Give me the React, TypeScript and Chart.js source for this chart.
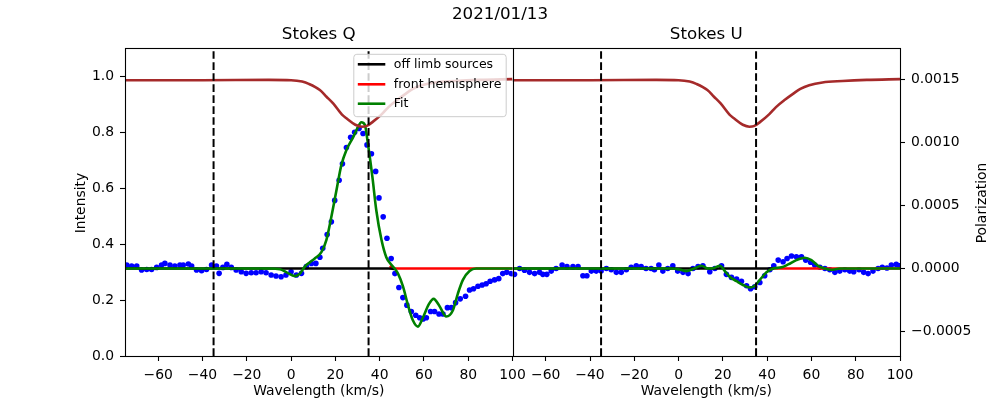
import { useEffect, useRef } from "react";
import { Chart, registerables } from "chart.js";
Chart.register(...registerables);

const FONT = "'DejaVu Sans', 'Liberation Sans', sans-serif";

// ---- axes / ticks ----
const velTicks = [-60, -40, -20, 0, 20, 40, 60, 80, 100];
const intensityTicks = [0, 0.2, 0.4, 0.6, 0.8, 1.0];
const polTicks = [-0.0005, 0, 0.0005, 0.001, 0.0015];
const markerVel = [-35, 35];
const panelTitles = ["Stokes Q", "Stokes U"];
const legendLabels = ["off limb sources", "front hemisphere", "Fit"];

// ---- intensity profile (brown, left axis) ----
const intVel = [-75, -40, -10, 0, 5, 8, 13, 16, 19, 23, 25, 29, 32, 34, 37, 41, 44, 48, 52, 55, 59, 65, 74, 85, 100];
const intVal = [0.985, 0.985, 0.986, 0.985, 0.98, 0.972, 0.95, 0.926, 0.902, 0.862, 0.849, 0.826, 0.819, 0.821, 0.837, 0.864, 0.889, 0.915, 0.938, 0.954, 0.967, 0.977, 0.982, 0.986, 0.989];

// ---- Stokes Q observed (blue dots) ----
const qDotVel = [-74.2, -72.0, -69.7, -67.5, -65.2, -63.0, -60.7, -58.5, -57.0, -54.7, -52.5, -50.2, -48.7, -46.4, -44.9, -42.7, -40.4, -38.2, -35.9, -33.7, -32.5, -30.8, -29.0, -27.0, -24.8, -22.5, -20.3, -18.0, -15.8, -13.5, -11.3, -9.0, -6.8, -4.5, -2.3, 0.0, 2.4, 4.7, 6.9, 9.2, 11.2, 13.0, 14.3, 16.3, 18.2, 19.7, 21.7, 23.2, 25.0, 26.9, 28.7, 30.7, 32.5, 34.3, 36.3, 38.2, 39.7, 41.6, 43.3, 45.2, 46.9, 48.7, 50.5, 52.3, 54.3, 56.3, 58.1, 59.6, 61.1, 63.0, 64.8, 66.8, 68.6, 70.6, 72.4, 74.3, 76.4, 78.8, 80.6, 82.4, 84.4, 86.3, 88.1, 89.9, 91.9, 93.8, 95.6, 97.4, 99.4];
const qDotPol = [2.8e-5, 2.0e-5, 2.0e-5, -1.2e-5, -0.7e-5, -0.7e-5, 0.9e-5, 2.8e-5, 4.1e-5, 2.8e-5, 2.0e-5, 2.8e-5, 2.8e-5, 3.6e-5, 2.0e-5, -1.2e-5, -1.7e-5, -0.7e-5, 2.8e-5, 2.0e-5, -3.8e-5, 0.9e-5, 3.3e-5, 0.9e-5, -1.2e-5, -2.5e-5, -3.8e-5, -3.3e-5, -3.3e-5, -2.5e-5, -3.3e-5, -5.1e-5, -5.9e-5, -6.5e-5, -5.1e-5, -2.5e-5, -5.1e-5, -3.8e-5, 1.5e-5, 4.0e-5, 4.1e-5, 9.0e-5, 16e-5, 27e-5, 37e-5, 54e-5, 70e-5, 83e-5, 96e-5, 104e-5, 108e-5, 111e-5, 107e-5, 98e-5, 91e-5, 77e-5, 56e-5, 41e-5, 24e-5, 8e-5, -4e-5, -15e-5, -23e-5, -29e-5, -34e-5, -37e-5, -39e-5, -40e-5, -39e-5, -34e-5, -34e-5, -36e-5, -36e-5, -31e-5, -31e-5, -27e-5, -24e-5, -22e-5, -17e-5, -16e-5, -14e-5, -13e-5, -12e-5, -10e-5, -9e-5, -8e-5, -4e-5, -3e-5, -4e-5];

// ---- Stokes Q model ----
const qFitVel = [-75, -10, -5, -2, 1.7, 4, 6.2, 8.5, 10.7, 13.7, 16, 18.2, 20.5, 22.7, 25, 28, 30.2, 31.7, 33.3, 34.7, 36.7, 38.5, 40.8, 43, 45.3, 46.8, 48.3, 50.5, 52.8, 55, 57.3, 59.5, 62.3, 64.4, 66.8, 70.1, 73.1, 75.3, 77.6, 80.6, 83.6, 100];
const qFitPol = [0, 0, -0.5e-5, -3e-5, -6e-5, -4e-5, 1.5e-5, 5e-5, 8e-5, 13e-5, 23e-5, 41e-5, 62e-5, 82e-5, 94e-5, 104e-5, 112e-5, 116e-5, 114e-5, 99e-5, 73e-5, 46e-5, 23e-5, 9e-5, 3e-5, 0, -4e-5, -14e-5, -29e-5, -41e-5, -46e-5, -39e-5, -28e-5, -24e-5, -29e-5, -38e-5, -33e-5, -20e-5, -9e-5, -2e-5, 0, 0];
const qOffVel = [-75, 44, 46.5];
const qOffPol = [0, 0, -0.3e-5];
const qFrontVel = [44.5, 46, 48, 100];
const qFrontPol = [2e-5, 0.3e-5, 0, 0];

// ---- Stokes U observed (blue dots) ----
const uDotVel = [-74.1, -71.8, -69.6, -67.3, -65.0, -62.8, -61.3, -59.5, -57.5, -55.3, -52.6, -50.4, -47.7, -45.4, -43.2, -41.4, -39.4, -37.2, -35.0, -32.6, -30.4, -28.1, -25.9, -23.6, -21.4, -19.1, -16.9, -14.7, -12.4, -10.9, -8.9, -7.1, -4.9, -2.6, -0.4, 2.0, 4.3, 6.5, 8.8, 11.0, 14.1, 16.4, 19.4, 21.6, 23.9, 26.2, 28.4, 30.7, 32.5, 34.4, 36.7, 38.9, 41.2, 43.0, 45.0, 47.2, 49.0, 51.0, 53.2, 55.5, 57.4, 59.6, 61.5, 63.8, 66.1, 68.3, 70.6, 72.8, 75.1, 77.3, 79.1, 81.5, 83.6, 85.6, 87.8, 90.1, 92.0, 94.1, 96.1, 98.3, 99.8];
const uDotPol = [-4.6e-5, 0, -1.3e-5, -3e-5, -4e-5, -3e-5, -4.6e-5, -4.6e-5, -2e-5, 0, 2.8e-5, 1.5e-5, 1.5e-5, 1.5e-5, -5.7e-5, -5.7e-5, -2e-5, -2e-5, -2e-5, 0, -1e-5, -3e-5, -3e-5, -1e-5, 1e-5, 2.2e-5, 1.5e-5, 0, 0, -1e-5, 2.8e-5, -2e-5, 0, 2.2e-5, -2e-5, -3e-5, -4e-5, 0, 1.5e-5, 2.2e-5, -2.5e-5, 0, 2.2e-5, -4.6e-5, -7e-5, -8.3e-5, -10e-5, -13.6e-5, -16e-5, -14.4e-5, -11e-5, -5.7e-5, -1e-5, 2.2e-5, 6.7e-5, 5.4e-5, 8e-5, 10e-5, 9.4e-5, 9.4e-5, 6.7e-5, 5e-5, 2.8e-5, 1e-5, 0, -1e-5, -3e-5, -2e-5, -1e-5, -2e-5, -2.5e-5, -1e-5, -3e-5, -4e-5, -2e-5, 0, 1e-5, 0.5e-5, 2.8e-5, 3.3e-5, 2.2e-5];

// ---- Stokes U model ----
const uFitVel = [-75, -3, 0.5, 3.5, 7, 10.3, 13.4, 16, 18.7, 20.9, 23.1, 26.2, 29.1, 32.1, 34.4, 36.7, 39.7, 42.7, 46.5, 49.5, 53.2, 57, 60, 63, 66.1, 69, 72.8, 100];
const uFitPol = [0, 0, -0.8e-5, -2e-5, 0, 2.2e-5, 0, 0.5e-5, 2.2e-5, -2e-5, -6.5e-5, -10e-5, -13e-5, -15e-5, -13.6e-5, -9e-5, -3e-5, 0, 1e-5, 3.3e-5, 6.7e-5, 8.6e-5, 6.7e-5, 2.2e-5, 0, -1e-5, 0, 0];
const uOffVel = [-75, 43];
const uOffPol = [0, 0];
const uFrontVel = [42, 100];
const uFrontPol = [0, 0];

const COLORS = { dots: "#0000ff", off: "#000000", front: "#ff0000", fit: "#008000", intensity: "#a52a2a" };

const xy = (xs: number[], ys: number[]) => xs.map((x, i) => ({ x, y: ys[i] }));
const minus = (s: string) => s.replace(/-/g, "\u2212");

function panelDatasets(xAxisID: string, dv: number[], dp: number[], fv: number[], fp: number[], ov: number[], op: number[], rv: number[], rp: number[]) {
  const line = (data: { x: number; y: number }[], color: string, order: number, yAxisID: string, extra: any = {}) => ({
    data, xAxisID, yAxisID, showLine: true, borderColor: color, backgroundColor: color,
    borderWidth: 2.6, pointRadius: 0, cubicInterpolationMode: "monotone", tension: 0.4, order, ...extra,
  });
  const sets: any[] = [
    { data: xy(dv, dp), xAxisID, yAxisID: "yP", showLine: false, pointRadius: 2.8, pointBorderWidth: 0, backgroundColor: COLORS.dots, borderColor: COLORS.dots, order: 7 },
    line(xy(rv, rp), COLORS.front, 6, "yP"),
    line(xy(ov, op), COLORS.off, 5, "yP"),
    line(xy(fv, fp), COLORS.fit, 4, "yP"),
    line(xy(intVel, intVal), COLORS.intensity, 3, "yI"),
  ];
  for (const m of markerVel) {
    sets.push(line([{ x: m, y: 0 }, { x: m, y: 1.1 }], "#000", 1, "yI", { borderDash: [7.7, 3.3], borderWidth: 2, tension: 0 }));
  }
  return sets;
}

const tickFont = { family: FONT, size: 13.9 };

function xScale() {
  return {
    type: "linear", position: "bottom", stack: "panels", stackWeight: 1, min: -75, max: 100,
    afterBuildTicks: (s: any) => { s.ticks = velTicks.map((value) => ({ value })); },
    afterFit: (s: any) => { s.height = 44; },
    ticks: { font: tickFont, color: "#000", padding: 6, maxRotation: 0, autoSkip: false, callback: (v: any) => minus(String(v)) },
    grid: { drawOnChartArea: false, drawTicks: true, tickLength: 5, tickColor: "#000", tickWidth: 1.1 },
    border: { display: false },
  };
}

const overlayPlugin = {
  id: "overlay",
  afterDatasetsDraw(chart: any) {
    const { ctx, chartArea: a, scales } = chart;
    ctx.save();
    ctx.strokeStyle = "#000";
    ctx.lineWidth = 1.1;
    ctx.strokeRect(Math.round(a.left) + 0.5, Math.round(a.top) + 0.5, Math.round(a.right) - Math.round(a.left), Math.round(a.bottom) - Math.round(a.top));
    const mid = Math.round(scales.xQ.right) + 0.5;
    ctx.beginPath();
    ctx.moveTo(mid, a.top);
    ctx.lineTo(mid, a.bottom);
    ctx.stroke();
    ctx.restore();
  },
  afterDraw(chart: any) {
    const { ctx, chartArea: a, scales } = chart;
    const xQ = scales.xQ, xU = scales.xU;
    ctx.save();
    ctx.fillStyle = "#000";
    ctx.textAlign = "center";
    ctx.textBaseline = "middle";
    ctx.font = `16.7px ${FONT}`;
    ctx.fillText("2021/01/13", 500, 15);
    ctx.fillText(panelTitles[0], (xQ.left + xQ.right) / 2, 35);
    ctx.fillText(panelTitles[1], (xU.left + xU.right) / 2, 35);
    ctx.font = `13.9px ${FONT}`;
    ctx.fillText("Wavelength (km/s)", (xQ.left + xQ.right) / 2, 391);
    ctx.fillText("Wavelength (km/s)", (xU.left + xU.right) / 2, 391);
    const cy = (a.top + a.bottom) / 2 + 1;
    ctx.save();
    ctx.translate(81, cy);
    ctx.rotate(-Math.PI / 2);
    ctx.fillText("Intensity", 0, 0);
    ctx.restore();
    ctx.save();
    ctx.translate(982, cy);
    ctx.rotate(-Math.PI / 2);
    ctx.fillText("Polarization", 0, 0);
    ctx.restore();

    // legend (upper right of the Stokes Q panel)
    const w = 152.4, h = 62.4;
    const lx = xQ.right - 6.3 - w, ly = a.top + 6.3;
    ctx.beginPath();
    ctx.roundRect(lx, ly, w, h, 3);
    ctx.fillStyle = "rgba(255,255,255,0.8)";
    ctx.fill();
    ctx.strokeStyle = "#cccccc";
    ctx.lineWidth = 1;
    ctx.stroke();
    const colors = [COLORS.off, COLORS.front, COLORS.fit];
    const rows = [10, 30, 49.4];
    ctx.font = `12.5px ${FONT}`;
    ctx.textAlign = "left";
    for (let i = 0; i < 3; i++) {
      const y = ly + rows[i];
      ctx.beginPath();
      ctx.moveTo(lx + 4, y);
      ctx.lineTo(lx + 31.5, y);
      ctx.strokeStyle = colors[i];
      ctx.lineWidth = 2.6;
      ctx.stroke();
      ctx.fillStyle = "#000";
      ctx.fillText(legendLabels[i], lx + 40, y);
    }
    ctx.restore();
  },
};

export default function App() {
  const ref = useRef<HTMLCanvasElement>(null);
  useEffect(() => {
    const datasets = [
      ...panelDatasets("xQ", qDotVel, qDotPol, qFitVel, qFitPol, qOffVel, qOffPol, qFrontVel, qFrontPol),
      ...panelDatasets("xU", uDotVel, uDotPol, uFitVel, uFitPol, uOffVel, uOffPol, uFrontVel, uFrontPol),
    ];
    const chart = new Chart(ref.current as HTMLCanvasElement, {
      type: "scatter",
      data: { datasets },
      options: {
        animation: false,
        responsive: true,
        maintainAspectRatio: false,
        layout: { padding: { top: 48, left: 0, right: 0, bottom: 0 } },
        plugins: { legend: { display: false }, tooltip: { enabled: false }, title: { display: false } },
        events: [],
        scales: {
          xQ: xScale(),
          xU: xScale(),
          yI: {
            type: "linear", position: "left", min: 0, max: 1.1,
            afterBuildTicks: (s: any) => { s.ticks = intensityTicks.map((value) => ({ value })); },
            afterFit: (s: any) => { s.width = 125; },
            ticks: { font: tickFont, color: "#000", padding: 6, callback: (v: any) => Number(v).toFixed(1) },
            grid: { drawOnChartArea: false, drawTicks: true, tickLength: 5, tickColor: "#000", tickWidth: 1.1 },
            border: { display: false },
          },
          yP: {
            type: "linear", position: "right", min: -0.000693, max: 0.001748,
            afterBuildTicks: (s: any) => { s.ticks = polTicks.map((value) => ({ value })); },
            afterFit: (s: any) => { s.width = 100; },
            ticks: { font: tickFont, color: "#000", padding: 6, callback: (v: any) => minus(Number(v).toFixed(4)) },
            grid: { drawOnChartArea: false, drawTicks: true, tickLength: 5, tickColor: "#000", tickWidth: 1.1 },
            border: { display: false },
          },
        } as any,
      },
      plugins: [overlayPlugin],
    } as any);
    return () => chart.destroy();
  }, []);
  return (
    <div style={{ position: "fixed", left: 0, top: 0, width: 1000, height: 400, background: "#fff" }}>
      <canvas ref={ref} />
    </div>
  );
}
